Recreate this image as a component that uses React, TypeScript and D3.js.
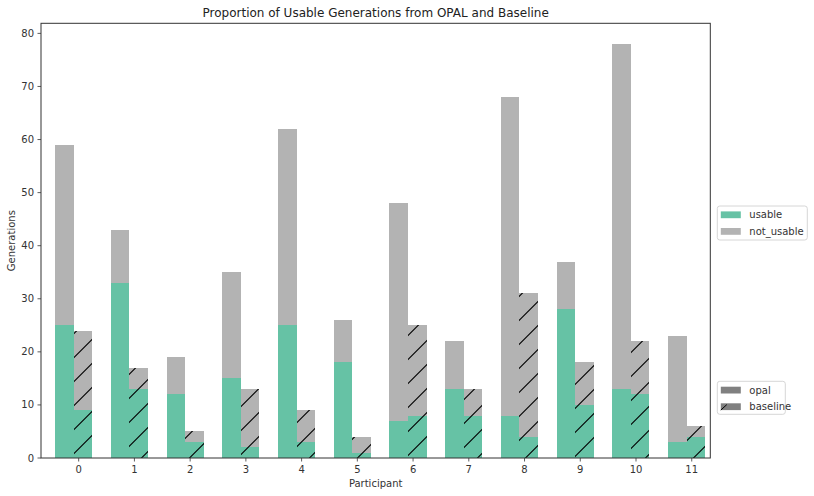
import * as d3 from "d3";
import { useEffect, useRef } from "react";

const participants = [0, 1, 2, 3, 4, 5, 6, 7, 8, 9, 10, 11];
const opalTotal = [59, 43, 19, 35, 62, 26, 48, 22, 68, 37, 78, 23];
const opalUsable = [25, 33, 12, 15, 25, 18, 7, 13, 8, 28, 13, 3];
const baselineTotal = [24, 17, 5, 13, 9, 4, 25, 13, 31, 18, 22, 6];
const baselineUsable = [9, 13, 3, 2, 3, 1, 8, 8, 4, 10, 12, 4];
const yTicks = [0, 10, 20, 30, 40, 50, 60, 70, 80];

const GREEN = "#66c2a5";
const GREY = "#b3b3b3";
const INK = "#333333";
const FONT = "DejaVu Sans, sans-serif";

export default function App() {
  const svgRef = useRef<SVGSVGElement>(null);
  const width = 814;
  const height = 496;

  useEffect(() => {
    if (!svgRef.current) return;
    const svg = d3.select(svgRef.current);
    svg.selectAll("*").remove();

    const left = 41, right = 710.3, top = 23.3, bottom = 458;

    const x = d3.scaleLinear().domain([-0.676, 11.333]).range([left, right]);
    const y = d3.scaleLinear().domain([0, 81.9]).range([bottom, top]);

    // hatch pattern anchored to page space
    const defs = svg.append("defs");
    const pat = defs
      .append("pattern")
      .attr("id", "hatch")
      .attr("patternUnits", "userSpaceOnUse")
      .attr("width", 24)
      .attr("height", 24);
    pat
      .append("path")
      .attr("d", "M-2,25.5L25.5,-2M22,25.5L25.5,22M-2,1.5L1.5,-2")
      .attr("stroke", "#000")
      .attr("stroke-width", 1.1)
      .attr("fill", "none");

    const bw = 0.333;
    const series = [
      { name: "opal", start: -0.424, total: opalTotal, usable: opalUsable, hatch: false },
      { name: "baseline", start: -0.091, total: baselineTotal, usable: baselineUsable, hatch: true },
    ];

    const g = svg.append("g").attr("shape-rendering", "crispEdges");
    series.forEach((s) => {
      participants.forEach((p, i) => {
        const x0 = x(p + s.start);
        const x1 = x(p + s.start + bw);
        g.append("rect")
          .attr("x", x0)
          .attr("width", x1 - x0)
          .attr("y", y(s.usable[i]))
          .attr("height", y(0) - y(s.usable[i]))
          .attr("fill", GREEN);
        g.append("rect")
          .attr("x", x0)
          .attr("width", x1 - x0)
          .attr("y", y(s.total[i]))
          .attr("height", y(s.usable[i]) - y(s.total[i]))
          .attr("fill", GREY);
        if (s.hatch) {
          g.append("rect")
            .attr("x", x0)
            .attr("width", x1 - x0)
            .attr("y", y(s.total[i]))
            .attr("height", y(0) - y(s.total[i]))
            .attr("fill", "url(#hatch)");
        }
      });
    });

    // spines
    svg.append("rect")
      .attr("x", left)
      .attr("y", top)
      .attr("width", right - left)
      .attr("height", bottom - top)
      .attr("fill", "none")
      .attr("stroke", INK)
      .attr("stroke-width", 1);

    // y axis
    const yAxis = svg.append("g").attr("font-family", FONT).attr("font-size", 10).attr("fill", INK);
    yTicks.forEach((t) => {
      yAxis.append("line")
        .attr("x1", left - 3.5).attr("x2", left)
        .attr("y1", y(t)).attr("y2", y(t))
        .attr("stroke", INK).attr("stroke-width", 0.8);
      yAxis.append("text")
        .attr("x", left - 7).attr("y", y(t))
        .attr("text-anchor", "end").attr("dominant-baseline", "central")
        .text(t);
    });

    // x axis
    const xAxis = svg.append("g").attr("font-family", FONT).attr("font-size", 10).attr("fill", INK);
    participants.forEach((p) => {
      xAxis.append("line")
        .attr("x1", x(p)).attr("x2", x(p))
        .attr("y1", bottom).attr("y2", bottom + 3.5)
        .attr("stroke", INK).attr("stroke-width", 0.8);
      xAxis.append("text")
        .attr("x", x(p)).attr("y", 469.5)
        .attr("text-anchor", "middle").attr("dominant-baseline", "central")
        .text(p);
    });

    svg.append("text")
      .attr("x", (left + right) / 2).attr("y", 483.5)
      .attr("text-anchor", "middle").attr("dominant-baseline", "central")
      .attr("font-family", FONT).attr("font-size", 10).attr("fill", INK)
      .text("Participant");

    svg.append("text")
      .attr("transform", `translate(11.5,${(top + bottom) / 2}) rotate(-90)`)
      .attr("text-anchor", "middle").attr("dominant-baseline", "central")
      .attr("font-family", FONT).attr("font-size", 10).attr("fill", INK)
      .text("Generations");

    svg.append("text")
      .attr("x", (left + right) / 2).attr("y", 13)
      .attr("text-anchor", "middle").attr("dominant-baseline", "central")
      .attr("font-family", FONT).attr("font-size", 12).attr("fill", "#222")
      .text("Proportion of Usable Generations from OPAL and Baseline");

    // legends
    const legend = (
      bx: number, by: number, bwid: number, bh: number,
      items: { label: string; fill: string; hatch: boolean }[],
    ) => {
      const lg = svg.append("g");
      lg.append("rect")
        .attr("x", bx).attr("y", by).attr("width", bwid).attr("height", bh)
        .attr("rx", 2.5).attr("fill", "#fff")
        .attr("stroke", "#d6d6d6").attr("stroke-width", 1);
      items.forEach((it, i) => {
        const cy = by + 8.7 + i * 16.6;
        lg.append("rect")
          .attr("x", bx + 3.5).attr("y", cy - 3.3).attr("width", 20).attr("height", 6.8)
          .attr("fill", it.fill);
        if (it.hatch) {
          lg.append("line")
            .attr("x1", bx + 3.5).attr("y1", cy + 3.5)
            .attr("x2", bx + 9.5).attr("y2", cy - 2)
            .attr("stroke", "#000").attr("stroke-width", 1);
        }
        lg.append("text")
          .attr("x", bx + 32).attr("y", cy)
          .attr("dominant-baseline", "central")
          .attr("font-family", FONT).attr("font-size", 10).attr("fill", INK)
          .text(it.label);
      });
    };

    legend(717.3, 206, 90, 34, [
      { label: "usable", fill: GREEN, hatch: false },
      { label: "not_usable", fill: GREY, hatch: false },
    ]);
    legend(717.3, 381.3, 68, 33, [
      { label: "opal", fill: "#808080", hatch: false },
      { label: "baseline", fill: "#808080", hatch: true },
    ]);
  }, []);

  return (
    <svg
      ref={svgRef}
      width={width}
      height={height}
      style={{ position: "absolute", left: 0, top: 0, background: "#fff" }}
    />
  );
}
